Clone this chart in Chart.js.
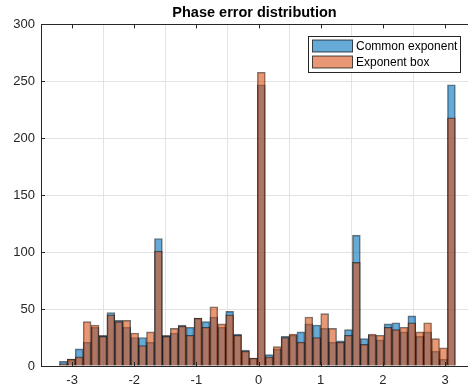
<!DOCTYPE html>
<html>
<head>
<meta charset="utf-8">
<script src="https://cdn.jsdelivr.net/npm/chart.js@4/dist/chart.umd.min.js"></script>
<style>
    html, body { margin: 0; padding: 0; background: #fff; }
    #wrap { width: 468px; height: 392px; position: relative; }
</style>
</head>
<body>
<div id="wrap"><canvas id="grafico-fase"></canvas></div>
<script>
(function () {
    'use strict';

    // bin centres (rad)
    var binCenters = [
        -3.140, -3.013, -2.885, -2.758, -2.630, -2.503, -2.376, -2.248, -2.121, -1.993,
        -1.866, -1.739, -1.611, -1.484, -1.356, -1.229, -1.102, -0.974, -0.847, -0.719,
        -0.592, -0.465, -0.337, -0.210, -0.082, 0.045, 0.172, 0.300, 0.427, 0.555,
        0.682, 0.809, 0.937, 1.064, 1.192, 1.319, 1.446, 1.574, 1.701, 1.829,
        1.956, 2.083, 2.211, 2.338, 2.466, 2.593, 2.720, 2.848, 2.975, 3.103
    ];

    var commonExponent = [
        4, 6, 15, 21, 34, 27, 47, 40, 34, 25,
        25, 21, 112, 27, 29, 36, 34, 42, 39, 43,
        34, 48, 28, 14, 7, 247, 10, 15, 26, 27,
        30, 37, 36, 33, 21, 22, 32, 115, 24, 27,
        23, 37, 38, 30, 44, 26, 30, 13, 6, 247
    ];

    var exponentBox = [
        2, 6, 8, 39, 36, 26, 45, 39, 40, 29,
        18, 30, 101, 26, 33, 35, 27, 42, 34, 52,
        37, 45, 27, 13, 7, 258, 8, 17, 25, 28,
        21, 43, 25, 46, 33, 21, 27, 91, 19, 28,
        27, 34, 32, 34, 38, 30, 38, 24, 16, 218
    ];

    var xTicks = [-3, -2, -1, 0, 1, 2, 3];
    var yTicks = [0, 50, 100, 150, 200, 250, 300];

    var seriesNames = ['Common exponent', 'Exponent box'];
    var fillBlue = 'rgba(0,114,189,0.6)';
    var fillOrange = 'rgba(217,83,25,0.6)';
    var edge = 'rgba(0,0,0,0.55)';
    var axisColor = '#262626';
    var fontFamily = '"Liberation Sans", Arial, Helvetica, sans-serif';

    function pontos(valores) {
        return binCenters.map(function (x, i) { return { x: x, y: valores[i] }; });
    }

    // MATLAB-style inward tick marks
    var ticksInternos = {
        id: 'ticksInternos',
        afterDatasetsDraw: function (chart) {
            var ctx = chart.ctx;
            var area = chart.chartArea;
            var sx = chart.scales.x;
            var sy = chart.scales.y;
            var len = 4;
            ctx.save();
            ctx.strokeStyle = axisColor;
            ctx.lineWidth = 1;
            ctx.beginPath();
            xTicks.forEach(function (v) {
                var px = Math.round(sx.getPixelForValue(v)) + 0.5;
                ctx.moveTo(px, area.bottom);
                ctx.lineTo(px, area.bottom - len);
                ctx.moveTo(px, area.top);
                ctx.lineTo(px, area.top + len);
            });
            yTicks.forEach(function (v) {
                var py = Math.round(sy.getPixelForValue(v)) + 0.5;
                ctx.moveTo(area.left, py);
                ctx.lineTo(area.left + len, py);
            });
            ctx.stroke();
            ctx.restore();
        }
    };

    // legend box in the upper right corner of the axes
    var legendaInterna = {
        id: 'legendaInterna',
        afterDraw: function (chart) {
            var ctx = chart.ctx;
            var x0 = 308.5, y0 = 36.5, w = 152, h = 36;
            var fills = [fillBlue, fillOrange];
            ctx.save();
            ctx.fillStyle = '#fff';
            ctx.fillRect(x0, y0, w, h);
            ctx.strokeStyle = axisColor;
            ctx.lineWidth = 1;
            ctx.strokeRect(x0, y0, w, h);
            ctx.font = '12px ' + fontFamily;
            ctx.textBaseline = 'middle';
            ctx.textAlign = 'left';
            seriesNames.forEach(function (nome, i) {
                var sy = y0 + 3.5 + i * 16;
                ctx.fillStyle = fills[i];
                ctx.fillRect(x0 + 4, sy, 40, 12);
                ctx.strokeStyle = 'rgba(0,0,0,0.7)';
                ctx.strokeRect(x0 + 4, sy, 40, 12);
                ctx.fillStyle = '#000';
                ctx.fillText(nome, x0 + 47.5, sy + 6.5);
            });
            ctx.restore();
        }
    };

    function init() {
        var canvas = document.getElementById('grafico-fase');
        if (!canvas || typeof Chart === 'undefined') return;

        new Chart(canvas, {
            type: 'bar',
            data: {
                datasets: [
                    {
                        label: seriesNames[0],
                        data: pontos(commonExponent),
                        backgroundColor: fillBlue,
                        borderColor: edge,
                        borderWidth: 1,
                        grouped: false,
                        order: 1
                    },
                    {
                        label: seriesNames[1],
                        data: pontos(exponentBox),
                        backgroundColor: fillOrange,
                        borderColor: edge,
                        borderWidth: 1,
                        grouped: false,
                        order: 0
                    }
                ]
            },
            options: {
                responsive: true,
                maintainAspectRatio: false,
                animation: false,
                barPercentage: 1,
                categoryPercentage: 1,
                layout: { padding: { left: 0, right: 0, top: 0, bottom: 0 } },
                plugins: {
                    legend: { display: false },
                    tooltip: { enabled: false },
                    title: {
                        display: true,
                        text: 'Phase error distribution',
                        fullSize: false,
                        color: '#000',
                        font: { family: fontFamily, size: 14.5, weight: 'bold' },
                        padding: { top: 4, bottom: 3 }
                    }
                },
                scales: {
                    x: {
                        type: 'linear',
                        min: -3.5,
                        max: 3.37,
                        offset: false,
                        afterFit: function (s) { s.height = 26; },
                        afterBuildTicks: function (s) {
                            s.ticks = xTicks.map(function (v) { return { value: v }; });
                        },
                        ticks: {
                            color: axisColor,
                            padding: 7,
                            maxRotation: 0,
                            font: { family: fontFamily, size: 13 }
                        },
                        grid: { color: '#e3e3e3', drawTicks: false },
                        border: { color: axisColor, width: 1 }
                    },
                    y: {
                        min: 0,
                        max: 300,
                        afterFit: function (s) { s.width = 41; },
                        afterBuildTicks: function (s) {
                            s.ticks = yTicks.map(function (v) { return { value: v }; });
                        },
                        ticks: {
                            color: axisColor,
                            padding: 6,
                            font: { family: fontFamily, size: 13 }
                        },
                        grid: {
                            drawTicks: false,
                            color: function (c) {
                                return c.tick && c.tick.value === 300 ? axisColor : '#e3e3e3';
                            }
                        },
                        border: { color: axisColor, width: 1 }
                    }
                }
            },
            plugins: [ticksInternos, legendaInterna]
        });
    }

    if (document.readyState === 'loading') {
        document.addEventListener('DOMContentLoaded', init);
    } else {
        init();
    }
})();
</script>
</body>
</html>
